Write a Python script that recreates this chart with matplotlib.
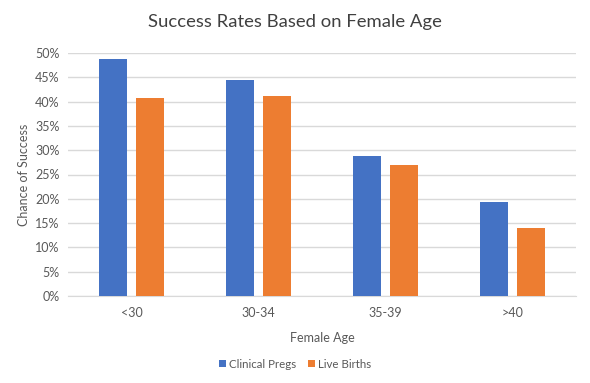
import matplotlib
matplotlib.use("Agg")
import matplotlib.pyplot as plt
import numpy as np
from matplotlib.ticker import PercentFormatter

categories = ["<30", "30-34", "35-39", ">40"]
clinical_pregs = [48.8, 44.4, 28.8, 19.3]
live_births = [40.7, 41.1, 27.0, 13.9]
series_names = ["Clinical Pregs", "Live Births"]
yticks = [0, 5, 10, 15, 20, 25, 30, 35, 40, 45, 50]

plt.rcParams['font.family'] = ['Lato', 'DejaVu Sans']
grey = '#595959'

fig = plt.figure(figsize=(5.9, 3.83), dpi=100)
ax = fig.add_axes([68/590, 1-296/383, (576-68)/590, (296-53)/383])

x = np.arange(len(categories))
w = 0.22
off = 0.142
ax.bar(x - off, clinical_pregs, w, color='#4472C4', label=series_names[0], zorder=3)
ax.bar(x + off, live_births, w, color='#ED7D31', label=series_names[1], zorder=3)

ax.set_xlim(-0.5, len(categories) - 0.5)
ax.set_ylim(0, 50)
ax.set_yticks(yticks)
ax.yaxis.set_major_formatter(PercentFormatter(decimals=0))
ax.set_xticks(x)
ax.set_xticklabels(categories)
ax.grid(axis='y', color='#d9d9d9', linewidth=1, zorder=0)
for s in ['top', 'right', 'left']:
    ax.spines[s].set_visible(False)
ax.spines['bottom'].set_color('#d9d9d9')
ax.tick_params(axis='both', length=0, colors=grey, labelsize=9)
ax.tick_params(axis='x', pad=8)
ax.tick_params(axis='y', pad=6)

ax.set_xlabel("Female Age", color=grey, fontsize=9, labelpad=9)
ax.set_ylabel("Chance of Success", color=grey, fontsize=9, labelpad=4)
fig.suptitle("Success Rates Based on Female Age", y=1-22/383, va='center',
             fontsize=13.3, color='#404040', fontweight='normal')

fig.legend(loc='center', bbox_to_anchor=(0.5, 1-364/383), ncol=2, frameon=False,
           fontsize=8.3, labelcolor=grey, handlelength=0.6, handleheight=0.6,
           handletextpad=0.3, columnspacing=1.0)

fig.savefig("out.png", dpi=100)
